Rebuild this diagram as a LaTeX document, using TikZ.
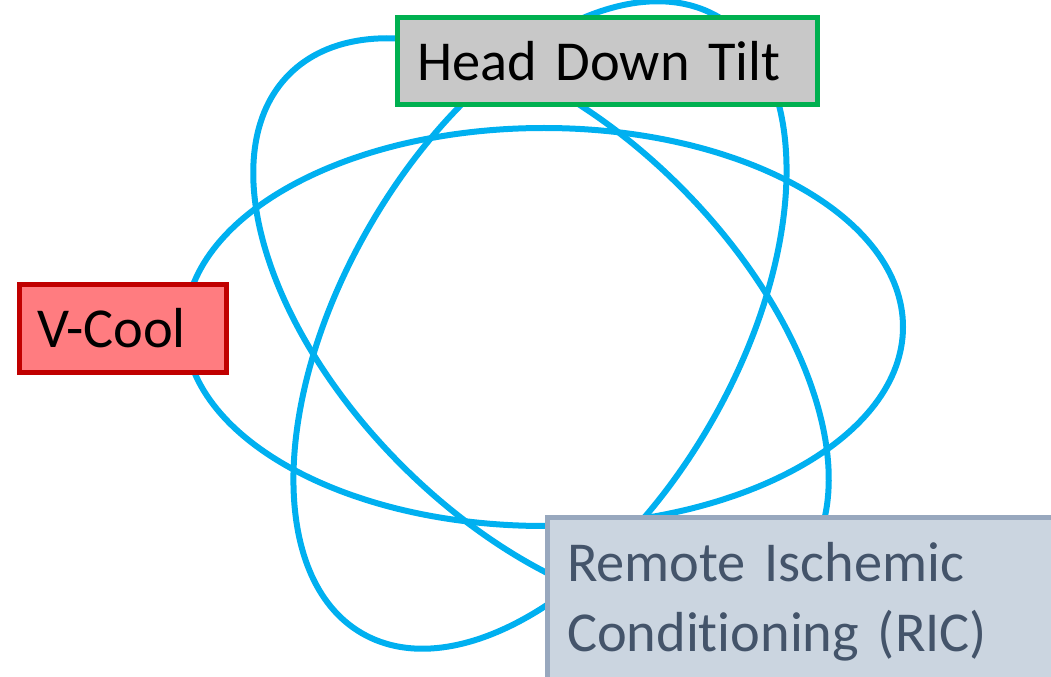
\documentclass[tikz,border=0pt]{standalone}
\usepackage{fontspec}
\setmainfont[Ligatures=NoCommon]{Carlito}
\usepackage{xcolor}
\usepackage{tikz}
\usetikzlibrary{positioning,calc}

\definecolor{orbitblue}{HTML}{00B0F0}
\definecolor{tiltgreen}{HTML}{00B050}
\definecolor{tiltgray}{HTML}{C8C8C8}
\definecolor{coolred}{HTML}{C00000}
\definecolor{coolpink}{HTML}{FF7C80}
\definecolor{ricfill}{HTML}{CBD5E0}
\definecolor{ricdraw}{HTML}{98A8BE}
\definecolor{rictext}{HTML}{44546A}

\begin{document}
\begin{tikzpicture}[
    x=0.5pt, y=0.5pt,
    % Stili per le orbite
    orbit/.style={draw=orbitblue, line width=3pt},
    % Stili per i riquadri
    box/.style={rectangle, line width=2.5pt, anchor=north west, align=left,
        font=\fontsize{28.2}{35}\selectfont},
    tiltbox/.style={box, draw=tiltgreen, fill=tiltgray, text=black,
        text width=190pt, inner xsep=10pt, inner ysep=0pt, minimum height=43.5pt},
    coolbox/.style={box, draw=coolred, fill=coolpink, text=black,
        text width=85.5pt, inner xsep=9pt, inner ysep=0pt, minimum height=44pt},
    ricbox/.style={box, draw=ricdraw, fill=ricfill, text=rictext,
        text width=250pt, inner xsep=10pt, inner ysep=12.5pt}
]

\useasboundingbox (0,0) rectangle (1051,676);
\clip (0,0) rectangle (1051,676);

% === ORBITE ===
\draw[orbit] (544,349) ellipse [x radius=359, y radius=199];
\draw[orbit, rotate around={-45:(541,350)}] (541,350) ellipse [x radius=356, y radius=197];
\draw[orbit, rotate around={60:(540,351)}] (540,351) ellipse [x radius=356, y radius=197];

% === RIQUADRI ===
\node[tiltbox] (tilt) at (394.5,660.5) {Head Down Tilt};
\node[coolbox] (vcool) at (16.5,394) {V-Cool};
\node[ricbox] (ric) at (544.5,161) {Remote Ischemic\\Conditioning (RIC)};

\end{tikzpicture}
\end{document}
